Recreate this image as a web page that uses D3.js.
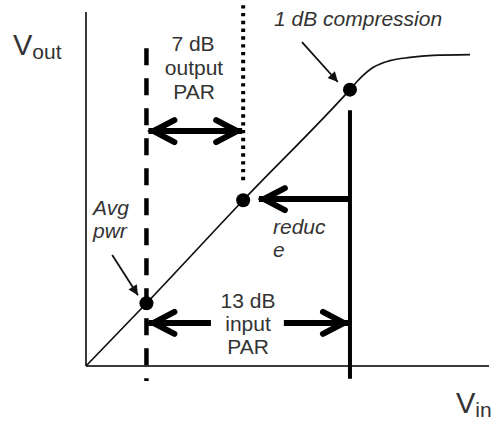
<!DOCTYPE html>
<html>
<head>
<meta charset="utf-8">
<script src="https://cdn.jsdelivr.net/npm/d3@7"></script>
<style>
  html, body { margin: 0; padding: 0; background: #fff; }
  svg { display: block; }
  text { font-family: "Liberation Sans", Arial, sans-serif; fill: #333; }
</style>
</head>
<body>
<div id="chart"></div>
<script>
// transfer curve Vout vs Vin (arbitrary linear units)
var curveVin  = [0, 15, 39, 65.5, 68, 71.2, 75.4, 80.4, 86.1, 95.3];
var curveVout = [0, 15.6, 41.2, 68.7, 71.5, 74.2, 75.9, 76.7, 77.2, 77.4];

// marked points: average power, reduced peak, 1 dB compression
var pointNames = ["avg", "reduce", "p1dB"];
var pointVin   = [15, 39, 65.5];
var pointVout  = [15.6, 41.2, 68.7];

// vertical guide lines (Vin position, Vout top, Vout bottom)
var guideVin    = [15, 39, 65.5];
var guideTop    = [79, 89.7, 63.6];
var guideBottom = [-3.7, 46.2, -3.2];

// levels of the horizontal arrows
var outParVout = 58.4;
var reduceVout = 41.5;
var reduceTipVin = 42.9;
var inParVout = 10.7;
var inParGapVin = [31, 49.1];

var width = 499, height = 423;
var svg = d3.select("#chart").append("svg")
    .attr("width", width)
    .attr("height", height);

var x = d3.scaleLinear().domain([0, 100]).range([86, 489]);
var y = d3.scaleLinear().domain([0, 88]).range([366, 12]);

// arrow defs
var defs = svg.append("defs");
defs.append("marker")
    .attr("id", "tri")
    .attr("viewBox", "0 0 10 10")
    .attr("refX", 10).attr("refY", 5)
    .attr("markerWidth", 6).attr("markerHeight", 5.5)
    .attr("markerUnits", "strokeWidth")
    .attr("orient", "auto")
  .append("path")
    .attr("d", "M0,0L10,5L0,10z")
    .attr("fill", "#111");

// axes
svg.append("line")
    .attr("x1", x(0)).attr("x2", x(0))
    .attr("y1", y(0)).attr("y2", y(88))
    .attr("stroke", "#3a3a3a").attr("stroke-width", 2);
svg.append("line")
    .attr("x1", x(0)).attr("x2", x(100))
    .attr("y1", y(0)).attr("y2", y(0))
    .attr("stroke", "#3a3a3a").attr("stroke-width", 2);

// transfer curve
var curveData = curveVin.map(function (v, i) { return [v, curveVout[i]]; });
var line = d3.line()
    .x(function (d) { return x(d[0]); })
    .y(function (d) { return y(d[1]); })
    .curve(d3.curveMonotoneX);
svg.append("path")
    .datum(curveData)
    .attr("d", line)
    .attr("fill", "none")
    .attr("stroke", "#111")
    .attr("stroke-width", 1.7);

// guide lines
var guideStyles = [
    { w: 4.5, dash: "17,13" },
    { w: 4, dash: "3.4,4.4" },
    { w: 4, dash: null }
];
guideVin.forEach(function (v, i) {
    var g = svg.append("line")
        .attr("x1", x(v)).attr("x2", x(v))
        .attr("y1", y(guideTop[i])).attr("y2", y(guideBottom[i]))
        .attr("stroke", "#000")
        .attr("stroke-width", guideStyles[i].w);
    if (guideStyles[i].dash) g.attr("stroke-dasharray", guideStyles[i].dash);
});

// points
svg.selectAll(".pt")
    .data(pointNames)
    .enter().append("circle")
    .attr("class", "pt")
    .attr("cx", function (d, i) { return x(pointVin[i]); })
    .attr("cy", function (d, i) { return y(pointVout[i]); })
    .attr("r", 7)
    .attr("fill", "#000");

// thick chevron arrow from (x1,y1) to tip (x2,y2), pixel coords
function bigArrow(x1, y1, x2, y2, both) {
    var g = svg.append("g")
        .attr("stroke", "#000")
        .attr("stroke-width", 6)
        .attr("fill", "none")
        .attr("stroke-linecap", "round")
        .attr("stroke-linejoin", "miter");
    g.append("line")
        .attr("x1", x1).attr("y1", y1)
        .attr("x2", x2).attr("y2", y2)
        .attr("stroke-linecap", "butt");
    var heads = both ? [[x1, y1, x2, y2], [x2, y2, x1, y1]] : [[x1, y1, x2, y2]];
    heads.forEach(function (h) {
        var dx = h[2] - h[0], dy = h[3] - h[1];
        var len = Math.sqrt(dx * dx + dy * dy);
        var ux = dx / len, uy = dy / len;
        var tx = h[2] - ux * 5, ty = h[3] - uy * 5;
        var back = 21, side = 11;
        var ax = tx - ux * back - uy * side, ay = ty - uy * back + ux * side;
        var bx = tx - ux * back + uy * side, by = ty - uy * back - ux * side;
        g.append("path")
            .attr("d", "M" + ax + "," + ay + "L" + tx + "," + ty + "L" + bx + "," + by);
    });
}

// 7 dB output PAR
bigArrow(x(pointVin[0]) + 2, y(outParVout), x(pointVin[1]) - 1, y(outParVout), true);
// reduce arrow
bigArrow(x(pointVin[2]), y(reduceVout), x(reduceTipVin), y(reduceVout), false);
// 13 dB input PAR
bigArrow(x(inParGapVin[0]), y(inParVout), x(pointVin[0]) + 2, y(inParVout), false);
bigArrow(x(inParGapVin[1]), y(inParVout), x(pointVin[2]) - 1, y(inParVout), false);

// thin pointer arrows
var pointers = [
    { from: [6.5, 27.6], to: [12.9, 17.6] },
    { from: [53.6, 80.5], to: [62.5, 70.6] }
];
svg.selectAll(".ptr")
    .data(pointers)
    .enter().append("line")
    .attr("class", "ptr")
    .attr("x1", function (d) { return x(d.from[0]); })
    .attr("y1", function (d) { return y(d.from[1]); })
    .attr("x2", function (d) { return x(d.to[0]); })
    .attr("y2", function (d) { return y(d.to[1]); })
    .attr("stroke", "#111")
    .attr("stroke-width", 1.8)
    .attr("marker-end", "url(#tri)");

// labels
function label(tx, ty, str, size, opts) {
    opts = opts || {};
    var t = svg.append("text")
        .attr("x", tx).attr("y", ty)
        .attr("font-size", size)
        .attr("text-anchor", opts.anchor || "start")
        .text(str);
    if (opts.italic) t.attr("font-style", "italic");
    return t;
}

// axis titles
var vout = label(13, 55, "V", 29);
vout.append("tspan").attr("font-size", 21).attr("dy", 4).text("out");
var vin = label(456, 413, "V", 29);
vin.append("tspan").attr("font-size", 21).attr("dy", 4).text("in");

label(193, 51, "7 dB", 21, { anchor: "middle" });
label(194, 75, "output", 21, { anchor: "middle" });
label(194, 99, "PAR", 21, { anchor: "middle" });

label(248, 308, "13 dB", 21, { anchor: "middle" });
label(248, 331, "input", 21, { anchor: "middle" });
label(248, 354, "PAR", 21, { anchor: "middle" });

label(274, 26, "1 dB compression", 21, { italic: true });
label(93, 215, "Avg", 21, { italic: true });
label(93, 238, "pwr", 21, { italic: true });
label(273, 234, "reduc", 21, { italic: true });
label(273, 257, "e", 21, { italic: true });
</script>
</body>
</html>
